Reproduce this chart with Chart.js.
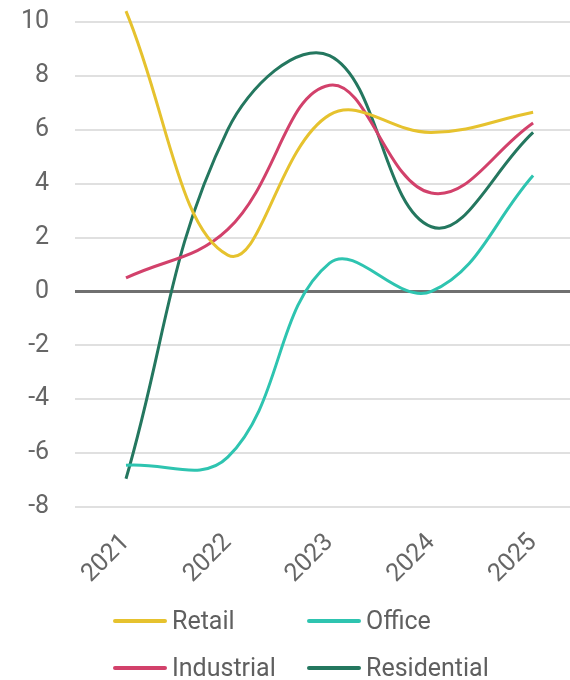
<!DOCTYPE html>
<html>
<head>
<meta charset="utf-8">
<script src="https://cdn.jsdelivr.net/npm/chart.js@4.4.1/dist/chart.umd.min.js"></script>
<style>
  html, body { margin: 0; padding: 0; width: 570px; height: 680px; overflow: hidden; background: #fff; }
  #wrap { position: absolute; left: 0; top: -60px; width: 600px; height: 660px; }
  #legend { position: absolute; left: 113px; top: 597px; width: 420px; display: flex; flex-wrap: wrap;
            font-family: Roboto, sans-serif; font-size: 25px; color: #5f5f5f; }
  .item { width: 194px; height: 47px; display: flex; align-items: center; }
  .swatch { width: 54px; height: 4px; margin-right: 5px; border-radius: 2px; }
</style>
</head>
<body>
<div id="wrap"><canvas id="trendLine" width="600" height="660"></canvas></div>
<div id="legend"></div>
<script>
const years = ['2021', '2022', '2023', '2024', '2025'];
const retail = [10.4, 1.35, 6.55, 5.9, 6.65];
const office = [-6.45, -6.15, 1.05, 0.0, 4.3];
const industrial = [0.5, 2.3, 7.65, 3.65, 6.25];
const residential = [-6.95, 6.0, 8.75, 2.4, 5.9];

const colors = ['#e6c22e', '#2ec4b0', '#d2416b', '#24775f'];

Chart.defaults.font.family = 'Roboto';
Chart.defaults.font.size = 25;
Chart.defaults.color = '#666';

const ctx = document.getElementById('trendLine').getContext('2d');
const chart = new Chart(ctx, {
  type: 'line',
  data: {
    labels: years,
    datasets: [
      { label: 'Retail', data: retail, borderColor: colors[0] },
      { label: 'Office', data: office, borderColor: colors[1] },
      { label: 'Industrial', data: industrial, borderColor: colors[2] },
      { label: 'Residential', data: residential, borderColor: colors[3] }
    ]
  },
  options: {
    responsive: false,
    animation: false,
    elements: {
      line: { borderWidth: 3, tension: 0.4, fill: false },
      point: { radius: 0 }
    },
    layout: { padding: { left: 21, top: 28, right: 16, bottom: 11 } },
    plugins: {
      legend: { display: false },
      tooltip: { enabled: false }
    },
    scales: {
      x: {
        offset: true,
        grid: { color: 'transparent', tickLength: 21 },
        border: { display: false },
        ticks: { minRotation: 45, maxRotation: 45, padding: 0 },
        // rotated labels would otherwise squeeze the categories inward
        afterFit: s => { s.paddingLeft = 0; s.paddingRight = 0; }
      },
      y: {
        min: -8,
        max: 12,
        border: { display: false },
        grid: {
          tickLength: 26,
          tickColor: 'transparent',
          color: c => c.tick.value === 0 ? '#707070' : '#e0e0e0',
          lineWidth: c => c.tick.value === 0 ? 3 : 2
        },
        ticks: { stepSize: 2, padding: 0 }
      }
    }
  }
});

// html legend built from the datasets
const legend = document.getElementById('legend');
chart.data.datasets.forEach(ds => {
  const item = document.createElement('div');
  item.className = 'item';
  const sw = document.createElement('span');
  sw.className = 'swatch';
  sw.style.background = ds.borderColor;
  const txt = document.createElement('span');
  txt.textContent = ds.label;
  item.appendChild(sw);
  item.appendChild(txt);
  legend.appendChild(item);
});
</script>
</body>
</html>
